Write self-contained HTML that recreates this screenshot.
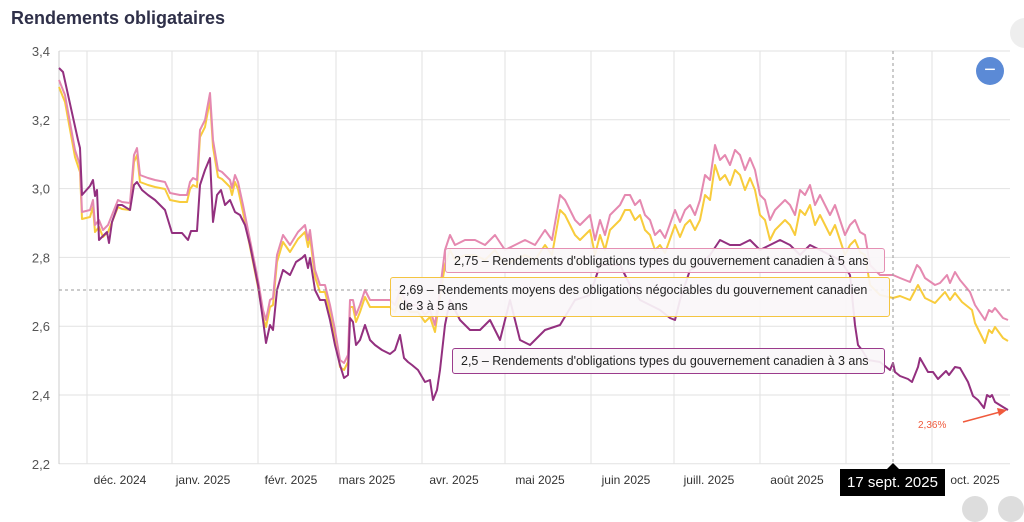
<!DOCTYPE html>
<html><head><meta charset="utf-8"><style>
body{margin:0;width:1024px;height:504px;background:#fff;overflow:hidden;position:relative;font-family:"Liberation Sans",Arial,sans-serif}
.t{position:absolute;left:11px;top:8px;font-size:18px;font-weight:bold;color:#2f3049}
.tt{position:absolute;background:rgba(250,246,248,0.92);border:1.5px solid;border-radius:3px;font-size:12.5px;color:#222;padding:4px 8px;line-height:16px;box-sizing:border-box;white-space:nowrap;overflow:hidden}
</style></head><body>
<div class="t">Rendements obligataires</div>
<svg id="s" width="1024" height="504" style="position:absolute;left:0;top:0"></svg>
<div class="tt" style="left:445px;top:248px;width:440px;height:25px;border-color:#e58fb3">2,75 – Rendements d'obligations types du gouvernement canadien à 5 ans</div>
<div class="tt" style="left:390px;top:277px;width:500px;height:40px;border-color:#f4c542">2,69 – Rendements moyens des obligations négociables du gouvernement canadien<br>de 3 à 5 ans</div>
<div class="tt" style="left:452px;top:348px;width:433px;height:26px;border-color:#9b3b8c">2,5 – Rendements d'obligations types du gouvernement canadien à 3 ans</div>
<div style="position:absolute;left:840px;top:469px;width:105px;height:27px;background:#000;color:#fff;font-size:15px;line-height:27px;text-align:center">17 sept. 2025</div>
<div style="position:absolute;left:887px;top:463px;width:0;height:0;border-left:6px solid transparent;border-right:6px solid transparent;border-bottom:6px solid #000"></div>
<div style="position:absolute;left:976px;top:57px;width:28px;height:28px;border-radius:50%;background:#5b8ad6;color:#fff;text-align:center;line-height:26px;font-size:20px">−</div>
<div style="position:absolute;left:1010px;top:18px;width:30px;height:30px;border-radius:50%;background:#eee"></div>
<div style="position:absolute;left:962px;top:496px;width:26px;height:26px;border-radius:50%;background:#ddd"></div>
<div style="position:absolute;left:998px;top:496px;width:26px;height:26px;border-radius:50%;background:#ddd"></div>
<script>
var s=document.getElementById('s'),h='';
['3,4','3,2','3,0','2,8','2,6','2,4','2,2'].forEach(function(l,i){var yy=51+i*68.8;h+='<line x1="59" x2="1010" y1="'+yy+'" y2="'+yy+'" stroke="#e2e2e2"/><text x="50" y="'+(yy+5)+'" text-anchor="end" font-size="13" fill="#555">'+l+'</text>';});
[87,172,258,336,422,505,591,674,760,846,932].forEach(function(x){h+='<line x1="'+x+'" x2="'+x+'" y1="51" y2="464" stroke="#e2e2e2"/>';});
h+='<line x1="59" x2="59" y1="51" y2="464" stroke="#ccc"/>';
[['déc. 2024',120],['janv. 2025',203],['févr. 2025',291],['mars 2025',367],['avr. 2025',454],['mai 2025',540],['juin 2025',626],['juill. 2025',709],['août 2025',797],['oct. 2025',975]].forEach(function(a){h+='<text x="'+a[1]+'" y="484" text-anchor="middle" font-size="12" fill="#333">'+a[0]+'</text>';});
var P=[[59,68],[63,72],[78,140],[80,148],[82,195],[90,186],[93,180],[95,196],[97,190],[99,240],[101,238],[107,232],[109,243],[112,222],[118,205],[122,205],[130,210],[134,185],[137,182],[142,190],[148,195],[155,200],[165,210],[172,233],[182,233],[188,240],[191,231],[197,231],[200,185],[205,170],[210,158],[213,222],[217,195],[221,190],[225,205],[230,200],[235,212],[240,215],[245,225],[250,245],[258,285],[263,320],[266,343],[270,325],[273,330],[277,290],[283,270],[290,275],[296,262],[302,258],[305,255],[308,268],[310,258],[315,290],[320,300],[325,300],[330,320],[335,345],[340,365],[344,378],[348,375],[350,318],[353,322],[356,345],[360,340],[365,325],[370,340],[375,345],[382,350],[390,354],[395,350],[400,335],[404,358],[408,362],[412,365],[418,370],[425,382],[430,380],[433,400],[437,390],[440,370],[445,325],[450,300],[460,320],[470,330],[480,330],[490,320],[500,340],[510,300],[520,340],[530,345],[545,330],[560,325],[575,300],[590,295],[600,265],[610,265],[620,265],[630,285],[640,300],[650,305],[660,310],[670,318],[675,320],[680,300],[690,270],[700,265],[710,255],[720,240],[730,245],[740,245],[750,240],[760,250],[770,245],[780,240],[790,245],[800,255],[810,245],[820,250],[830,255],[840,260],[850,275],[855,325],[858,345],[862,350],[868,360],[880,362],[890,370],[893,363],[895,372],[900,376],[908,379],[912,382],[918,367],[920,358],[928,372],[933,372],[938,379],[942,375],[946,371],[949,375],[955,367],[960,368],[968,382],[973,396],[978,400],[984,408],[987,395],[990,397],[992,395],[995,402],[1003,407],[1008,410]];
var K=[[59,80],[65,95],[75,150],[80,165],[82,212],[90,210],[93,200],[95,225],[99,220],[103,230],[108,225],[112,215],[118,200],[122,202],[130,203],[134,155],[137,148],[140,175],[148,178],[155,180],[165,182],[170,193],[180,195],[187,195],[190,182],[193,178],[197,180],[200,130],[205,120],[210,93],[213,140],[218,170],[222,172],[230,180],[232,188],[235,175],[238,182],[243,205],[250,240],[258,280],[263,310],[266,320],[270,300],[273,298],[277,255],[283,235],[290,245],[298,232],[305,225],[308,240],[310,230],[315,270],[320,285],[325,285],[330,305],[335,330],[340,360],[344,363],[348,355],[350,300],[353,300],[356,315],[360,305],[365,290],[370,300],[375,300],[382,300],[390,300],[395,305],[400,290],[405,300],[410,305],[418,305],[425,315],[430,310],[435,325],[440,290],[445,250],[450,235],[455,245],[465,240],[475,240],[485,245],[495,235],[505,250],[515,245],[525,240],[535,245],[545,230],[552,240],[560,195],[565,200],[570,210],[575,220],[580,225],[590,215],[595,240],[600,220],[605,235],[610,215],[615,210],[620,205],[625,195],[630,195],[635,205],[640,200],[645,215],[650,220],[655,235],[660,230],[665,238],[675,210],[680,222],[685,210],[690,205],[695,215],[700,200],[705,175],[710,180],[715,145],[720,160],[725,155],[730,165],[735,150],[740,155],[745,170],[750,158],[755,170],[760,195],[765,200],[770,220],[775,210],[780,205],[785,200],[790,205],[795,215],[800,190],[805,195],[810,185],[815,205],[820,195],[825,205],[830,215],[835,205],[840,220],[845,235],[850,225],[855,220],[860,232],[865,235],[870,265],[880,275],[893,275],[900,278],[910,282],[917,265],[920,268],[925,278],[935,285],[940,283],[947,275],[950,283],[955,272],[960,280],[970,292],[975,305],[985,320],[989,310],[992,312],[995,308],[1003,318],[1008,320]];
var Y=[];K.forEach(function(p){if(p[0]<893){var o=p[0]<445?7:(p[0]<700?15:20);Y.push([p[0],p[1]+o]);}});
[[893,298],[900,296],[910,300],[918,285],[925,298],[935,303],[945,292],[950,300],[955,293],[962,302],[972,310],[975,323],[985,343],[989,330],[992,333],[995,327],[1003,338],[1008,341]].forEach(function(p){Y.push(p)});
function pl(a,c){h+='<polyline fill="none" stroke="'+c+'" stroke-width="2" stroke-linejoin="round" points="'+a.map(function(p){return p.join(',')}).join(' ')+'"/>';}
pl(Y,'#f8cc3c');pl(K,'#e589b0');pl(P,'#93307f');
h+='<line x1="59" x2="1010" y1="290" y2="290" stroke="#999" stroke-dasharray="3,3"/><line x1="893" x2="893" y1="51" y2="464" stroke="#999" stroke-dasharray="3,3"/>';
h+='<text x="918" y="428" font-size="10" fill="#f05a3c">2,36%</text><line x1="963" y1="422" x2="1000" y2="412" stroke="#f05a3c" stroke-width="1.5"/><polygon points="1007,410 997,408 999,416" fill="#f05a3c"/>';
s.innerHTML=h;
</script>
</body></html>
